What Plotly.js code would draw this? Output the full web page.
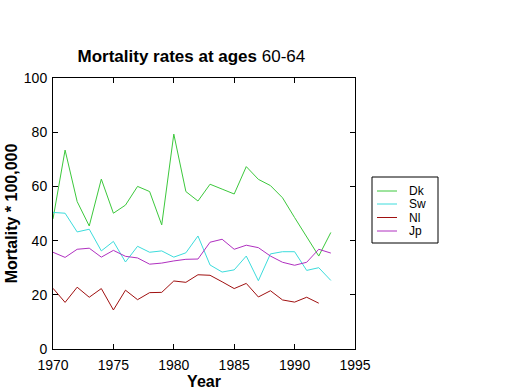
<!DOCTYPE html>
<html>
<head>
<meta charset="utf-8">
<script src="https://cdn.plot.ly/plotly-3.0.1.min.js"></script>
<style>html,body{margin:0;padding:0;background:#fff;}#chart{width:520px;height:390px;}</style>
</head>
<body>
<div id="chart"></div>
<script>
const years = [1970,1971,1972,1973,1974,1975,1976,1977,1978,1979,1980,1981,1982,1983,1984,1985,1986,1987,1988,1989,1990,1991,1992,1993];
const dk = [48.0,73.4,54.4,45.4,62.7,50.1,53.1,60.0,58.1,45.8,79.3,58.1,54.6,60.8,59.0,57.2,67.3,62.6,60.3,55.8,48.5,41.4,34.3,43.0];
const sw = [50.4,50.1,43.2,44.2,36.2,39.7,32.1,37.9,35.7,36.2,33.9,35.5,41.7,31.0,28.4,29.2,34.3,25.2,35.1,35.9,35.9,29.0,30.0,25.3];
const nlYears = [1970,1971,1972,1973,1974,1975,1976,1977,1978,1979,1980,1981,1982,1983,1984,1985,1986,1987,1988,1989,1990,1991,1992];
const nl = [22.4,17.2,22.8,19.1,22.3,14.4,21.7,18.2,20.8,20.9,25.1,24.6,27.4,27.2,24.8,22.3,24.2,19.2,21.5,18.1,17.3,19.1,16.9];
const jp = [35.7,33.8,36.8,37.2,33.9,36.4,34.2,33.6,31.3,31.7,32.5,33.1,33.2,39.4,40.5,36.8,38.3,37.4,34.3,32.0,30.9,32.0,36.8,35.4];
const seriesNames = ["Dk","Sw","Nl","Jp"];
const seriesColors = ["#3cc83c","#3cdcdc","#a01010","#b030c0"];
const xTicks = [1970,1975,1980,1985,1990,1995];
const yTicks = [0,20,40,60,80,100];

const font = "Liberation Sans, Arial, sans-serif";
const xs = [years, years, nlYears, years];
const ys = [dk, sw, nl, jp];
const traces = seriesNames.map((n, i) => ({
  type: "scatter", mode: "lines", x: xs[i], y: ys[i], name: n,
  line: {color: seriesColors[i], width: 1}, showlegend: false
}));

// plot-area geometry in pixels (for the hand-drawn legend box)
const M = {l: 53, r: 165, t: 78, b: 41};
const W = 520, H = 390;
const pw = W - M.l - M.r, ph = H - M.t - M.b;
const px = v => (v - M.l) / pw;
const py = v => (H - M.b - v) / ph;

const shapes = [{type: "rect", xref: "paper", yref: "paper",
  x0: px(372), x1: px(438), y0: py(243), y1: py(177),
  line: {color: "#000", width: 1}, fillcolor: "#fff"}];
const annotations = [];
const rowY = [191, 204, 217.5, 231];
seriesNames.forEach((n, i) => {
  shapes.push({type: "line", xref: "paper", yref: "paper",
    x0: px(377), x1: px(397), y0: py(rowY[i]), y1: py(rowY[i]),
    line: {color: seriesColors[i], width: 1}});
  annotations.push({xref: "paper", yref: "paper", x: px(407), y: py(rowY[i]),
    xanchor: "left", yanchor: "middle", showarrow: false, text: n,
    font: {family: font, size: 12, color: "#000"}});
});

const layout = {
  width: W, height: H,
  margin: M,
  paper_bgcolor: "#fff", plot_bgcolor: "#fff",
  font: {family: font, size: 14, color: "#000"},
  title: {text: "<b>Mortality rates at ages</b> 60-64", x: 0.368, xanchor: "center", y: 0.857, yanchor: "middle",
          font: {family: font, size: 17, color: "#000"}},
  xaxis: {range: [1970, 1995], tickvals: xTicks, ticks: "inside", ticklen: 5, tickcolor: "#000",
          showline: true, linecolor: "#000", linewidth: 1, mirror: "ticks", showgrid: false, zeroline: false,
          ticklabelstandoff: 3,
          title: {text: "<b>Year</b>", font: {family: font, size: 16}, standoff: 1},
          tickfont: {size: 14}},
  yaxis: {range: [0, 100], tickvals: yTicks, ticks: "inside", ticklen: 5, tickcolor: "#000",
          showline: true, linecolor: "#000", linewidth: 1, mirror: "ticks", showgrid: false, zeroline: false,
          ticklabelstandoff: 2,
          title: {text: "<b>Mortality * 100,000</b>", font: {family: font, size: 16}, standoff: 2},
          tickfont: {size: 14}},
  showlegend: false,
  shapes: shapes,
  annotations: annotations
};
Plotly.newPlot("chart", traces, layout, {displayModeBar: false, staticPlot: true});
</script>
</body>
</html>
